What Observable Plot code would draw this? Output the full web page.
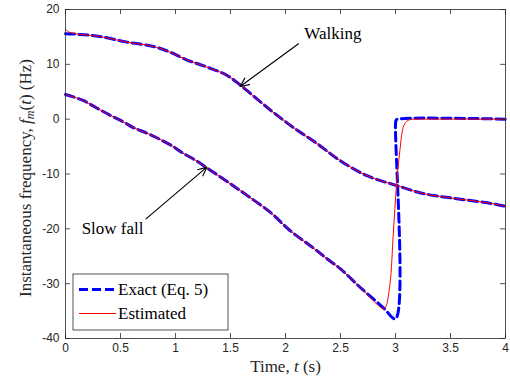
<!DOCTYPE html>
<html><head><meta charset="utf-8">
<script src="https://cdn.jsdelivr.net/npm/d3@7"></script>
<script src="https://cdn.jsdelivr.net/npm/@observablehq/plot@0.6"></script>
<style>body{margin:0;background:#fff}</style>
</head><body><div id="chart"></div>
<script>
// ---- data ----
const walkT      = [0, 0.13, 0.31, 0.56, 0.80, 0.95, 1.10, 1.29, 1.47, 1.59, 1.68, 1.77, 1.86, 2.07, 2.29, 2.50, 2.74, 3.01, 3.26, 3.50, 3.80, 3.92, 4.00];
const walkExact  = [15.6, 15.45, 15.08, 14.05, 13.26, 12.22, 10.83, 9.48, 7.97, 6.2, 4.7, 3.2, 1.7, -1.5, -4.5, -7.6, -10.3, -12.1, -13.6, -14.35, -15.15, -15.56, -15.9];
const walkEstT   = [0, 0.03, 0.08, 0.13, 0.31, 0.56, 0.80, 0.95, 1.10, 1.29, 1.47, 1.59, 1.68, 1.77, 1.86, 2.07, 2.29, 2.50, 2.74, 3.01, 3.26, 3.50, 3.80, 3.92, 4.00];
const walkEst    = [16.4, 15.9, 15.62, 15.45, 15.08, 14.05, 13.26, 12.22, 10.83, 9.48, 7.97, 6.2, 4.7, 3.2, 1.7, -1.5, -4.5, -7.6, -10.3, -12.1, -13.6, -14.35, -15.15, -15.56, -15.9];

const fallT      = [0, 0.16, 0.28, 0.41, 0.53, 0.62, 0.74, 0.86, 0.98, 1.06, 1.19, 1.32, 1.50, 1.65, 1.86, 2.04, 2.26, 2.38, 2.50, 2.68, 2.89, 3.00, 3.00, 3.005, 3.02, 4.00];
const fallExact  = [4.5, 3.41, 2.08, 0.67, -0.55, -1.57, -2.55, -3.7, -5.0, -6.1, -7.6, -9.36, -11.8, -13.9, -16.96, -20.3, -23.6, -25.5, -27.3, -30.7, -34.4, -36.4, -1.0, -0.2, 0, 0];
const fallEstT   = [0, 0.16, 0.28, 0.41, 0.53, 0.62, 0.74, 0.86, 0.98, 1.06, 1.19, 1.32, 1.50, 1.65, 1.86, 2.04, 2.26, 2.38, 2.50, 2.68, 2.89, 2.91, 2.95, 2.98, 3.01, 3.04, 3.07, 3.10, 3.14, 3.20, 4.00];
const fallEst    = [4.5, 3.41, 2.08, 0.67, -0.55, -1.57, -2.55, -3.7, -5.0, -6.1, -7.6, -9.36, -11.8, -13.9, -16.96, -20.3, -23.6, -25.5, -27.3, -30.7, -34.6, -34.3, -30.0, -20.9, -11.8, -5.7, -1.5, -0.4, -0.05, 0, 0];

const xTicks = [0, 0.5, 1, 1.5, 2, 2.5, 3, 3.5, 4];
const yTicks = [-40, -30, -20, -10, 0, 10, 20];

const annLabels = ["Walking", "Slow fall"];
const annTextX  = [2.171, 0.147];
const annTextY  = [15.65, -19.92];
const arrowX1   = [2.118, 0.732];
const arrowY1   = [13.75, -18.17];
const arrowX2   = [1.588, 1.285];
const arrowY2   = [5.96, -8.75];

const legendLabels = ["Exact (Eq. 5)", "Estimated"];
const seriesColors = ["#0000ff", "#ff0000"];

// ---- build table ----
const zip = (ts, ys) => ts.map((t, i) => ({t, y: ys[i]}));
const serif = "Liberation Serif, DejaVu Serif, Times New Roman, serif";
const sans = "Liberation Sans, Arial, sans-serif";
const ann = annLabels.map((s, i) => ({s, x: annTextX[i], y: annTextY[i]}));
const arrows = arrowX1.map((x, i) => ({x1: x, y1: arrowY1[i], x2: arrowX2[i], y2: arrowY2[i]}));

const X0 = 0, X1 = 4, Y0 = -40, Y1 = 20;
const dashed = {stroke: seriesColors[0], strokeWidth: 3, strokeDasharray: "9,4.5", curve: "catmull-rom"};
const solid = {stroke: seriesColors[1], strokeWidth: 1, curve: "catmull-rom"};

const chart = Plot.plot({
  width: 510, height: 386,
  marginLeft: 65, marginRight: 5, marginTop: 9, marginBottom: 48,
  style: {fontFamily: sans, fontSize: "12px", color: "#262626", background: "#fff"},
  x: {domain: [X0, X1], label: null},
  y: {domain: [Y0, Y1], label: null},
  marks: [
    Plot.line(zip(walkT, walkExact), {x: "t", y: "y", ...dashed}),
    Plot.line(zip(fallT, fallExact), {x: "t", y: "y", ...dashed}),
    Plot.line(zip(walkEstT, walkEst), {x: "t", y: "y", ...solid}),
    Plot.line(zip(fallEstT, fallEst), {x: "t", y: "y", ...solid}),
    Plot.arrow(arrows, {x1: "x1", y1: "y1", x2: "x2", y2: "y2", stroke: "#000", strokeWidth: 1.1, headLength: 13, headAngle: 50}),
    Plot.text(ann, {x: "x", y: "y", text: "s", textAnchor: "start", lineAnchor: "middle", fontFamily: serif, fontSize: 17, fill: "#000"}),
    // inward ticks on all four sides
    Plot.ruleX(xTicks, {x: d => d, y1: Y0, y2: Y0, insetTop: -5, stroke: "#262626", strokeWidth: 0.8}),
    Plot.ruleX(xTicks, {x: d => d, y1: Y1, y2: Y1, insetBottom: -5, stroke: "#262626", strokeWidth: 0.8}),
    Plot.ruleY(yTicks, {y: d => d, x1: X0, x2: X0, insetRight: -5, stroke: "#262626", strokeWidth: 0.8}),
    Plot.ruleY(yTicks, {y: d => d, x1: X1, x2: X1, insetLeft: -5, stroke: "#262626", strokeWidth: 0.8}),
    Plot.axisX(xTicks, {tickSize: 0, tickPadding: 5, tickFormat: d => String(d), label: null, fill: "#262626"}),
    Plot.axisY(yTicks, {tickSize: 0, tickPadding: 6, tickFormat: d => String(d), label: null, fill: "#262626"}),
    Plot.frame({stroke: "#262626", strokeWidth: 0.8})
  ]
});
document.getElementById("chart").append(chart);

// ---- axis titles with math styling ----
const svg = d3.select(chart);
const yl = svg.append("text")
  .attr("transform", "translate(31,178) rotate(-90)")
  .attr("text-anchor", "middle").style("font-family", serif).style("font-size", "17px").attr("fill", "#262626");
yl.append("tspan").text("Instantaneous frequency, ");
yl.append("tspan").style("font-style", "italic").text("f");
yl.append("tspan").style("font-style", "italic").style("font-size", "12px").attr("dy", 3).text("m");
yl.append("tspan").attr("dy", -3).text("(");
yl.append("tspan").style("font-style", "italic").text("t");
yl.append("tspan").text(") (Hz)");

const xl = svg.append("text")
  .attr("x", 285.5).attr("y", 372)
  .attr("text-anchor", "middle").style("font-family", serif).style("font-size", "17px").attr("fill", "#262626");
xl.append("tspan").text("Time, ");
xl.append("tspan").style("font-style", "italic").text("t");
xl.append("tspan").text(" (s)");

// ---- legend (inside the axes, lower-left) ----
const lg = svg.append("g");
lg.append("rect").attr("x", 73).attr("y", 274).attr("width", 155).attr("height", 56)
  .attr("fill", "#fff").attr("stroke", "#262626").attr("stroke-width", 0.8);
legendLabels.forEach((lab, i) => {
  const yy = 289.5 + i * 24;
  lg.append("line").attr("x1", 79).attr("x2", 116).attr("y1", yy).attr("y2", yy)
    .attr("stroke", seriesColors[i]).attr("stroke-width", i === 0 ? 3 : 1)
    .attr("stroke-dasharray", i === 0 ? "9,4" : null);
  lg.append("text").attr("x", 118).attr("y", yy + 5.5).attr("text-anchor", "start")
    .style("font-family", serif).style("font-size", "17px").attr("fill", "#000").text(lab);
});
</script>
</body></html>
